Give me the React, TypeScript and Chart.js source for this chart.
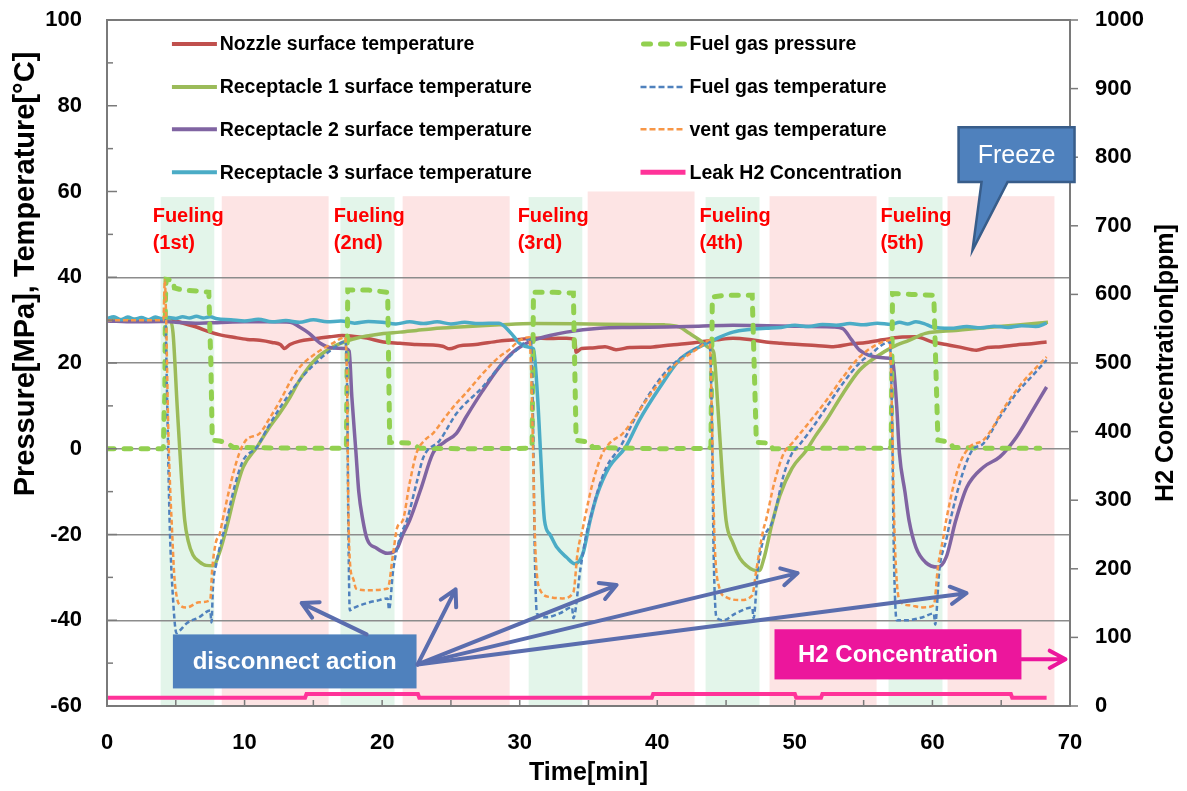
import React, { useEffect, useRef } from 'react';
import { Chart, registerables } from 'chart.js';
Chart.register(...registerables);

type P = [number, number];
const FONT = '"Liberation Sans", Arial, Helvetica, sans-serif';

// ---- axes ----
const xTickValues = [0, 10, 20, 30, 40, 50, 60, 70];
const leftTickValues = [-60, -40, -20, 0, 20, 40, 60, 80, 100];
const rightTickValues = [0, 100, 200, 300, 400, 500, 600, 700, 800, 900, 1000];

// ---- series names ----
const seriesNames = [
  'Nozzle surface temperature',
  'Receptacle 1 surface temperature',
  'Receptacle 2 surface temperature',
  'Receptacle 3 surface temperature',
  'Fuel gas pressure',
  'Fuel gas temperature',
  'vent gas temperature',
  'Leak H2 Concentration',
];

// ---- phases (min) ----
const fuelingStart = [3.9, 16.97, 30.65, 43.51, 56.81];
const fuelingEnd = [7.8, 20.9, 34.55, 47.43, 60.73];
const coolStart = [8.34, 21.49, 34.94, 48.16, 61.1];
const coolEnd = [16.11, 29.27, 42.71, 55.94, 68.87];
const coolTop = [58.9, 58.9, 60, 58.9, 58.9];
const fuelingTop = 58.7;
const fuelingOrdinals = ['(1st)', '(2nd)', '(3rd)', '(4th)', '(5th)'];
const fuelingLabelX = [3.32, 16.48, 29.85, 43.07, 56.22];

// ---- data: [time(min), value] ----
const nozzleTemp: P[] = [
  [0, 30.2], [2, 30], [4, 30.1], [5, 29.8], [5.5, 29.3], [6.5, 28.4], [7.5, 27.2], [8.3, 26.5], [9.2, 26],
  [10.2, 25.5], [11.1, 25.3], [12, 24.8], [12.6, 24.3], [12.9, 23.4], [13.3, 24.3], [14, 25.1], [15, 25.6],
  [16.2, 26.1], [17.1, 26.4], [18, 26.2], [18.9, 25.8], [20.1, 24.9], [21.3, 24.6], [22.5, 24.3], [23.7, 24.2],
  [24.4, 23.9], [24.9, 23.3], [25.6, 24], [26.8, 24.3], [28.5, 25.1], [30, 25.5], [31, 25.8], [32.2, 25.7],
  [33.4, 25.8], [34, 25.4], [34.1, 22.5], [34.5, 23.4], [35.3, 23.5], [36.2, 23.8], [37, 23.1], [38, 23.6],
  [39.5, 23.7], [41, 24.2], [42, 24.5], [43.1, 24.9], [44.3, 25.4], [45.5, 25.8], [46.7, 25.5], [47.9, 24.9],
  [49, 24.6], [50.3, 24.3], [51.5, 24.1], [52.8, 23.8], [54, 24.4], [55.2, 24.8], [56.4, 25.4], [57.6, 26],
  [58.8, 26.1], [60, 24.9], [61, 24.3], [62, 23.7], [63.2, 23], [64, 23.6], [65, 23.8], [66.1, 24.2],
  [67.2, 24.5], [68.3, 24.9],
];
const receptacle1Temp: P[] = [
  [0, 30], [2, 30.2], [4, 30], [4.6, 29.8], [4.8, 27], [5.1, 10], [5.4, -6], [5.65, -16.7], [5.9, -21.5],
  [6.25, -24.8], [6.7, -26.3], [7.2, -27.2], [7.7, -27.3], [8.2, -24], [8.7, -18.3], [9.3, -10.5], [9.9, -4.3],
  [10.9, 0.4], [11.7, 4.5], [12.6, 8.5], [13.3, 12], [14, 16], [15.2, 21], [16.4, 23.7], [17.6, 25.3],
  [18.9, 26.3], [20.1, 26.9], [21.3, 27.2], [22.5, 27.6], [23.7, 28], [25.6, 28.4], [28.5, 28.9], [31, 29.2],
  [35, 29.1], [38, 29], [40.5, 28.9], [41.6, 28.4], [42.3, 27], [43.1, 25.3], [43.8, 23.5], [44.1, 22.5],
  [44.4, 10], [44.7, -5], [45, -16.7], [45.5, -22], [46, -25.5], [46.5, -27.3], [47, -28.3], [47.4, -28.4],
  [47.8, -25], [48.3, -18], [48.9, -11], [49.8, -4.5], [50.8, -0.5], [51.5, 3], [52.3, 6.7], [53.5, 12.9],
  [54.7, 18.3], [55.9, 21.4], [57.1, 23.7], [58.3, 25.3], [59.5, 26.9], [61.7, 27.6], [64, 28.3], [66, 28.8],
  [68.4, 29.5],
];
const receptacle2Temp: P[] = [
  [0, 29.8], [2, 29.6], [4, 29.7], [5, 29.5], [6.7, 29.3], [8, 29.4], [10, 29.6], [12, 29.6], [13.3, 29.5],
  [14, 28.4], [14.7, 26.9], [15.5, 24.6], [16.4, 23.5], [17.3, 23.4], [17.6, 22.8], [17.8, 12], [18.1, -1],
  [18.3, -10], [18.6, -16.7], [18.9, -21], [19.6, -23.2], [20.4, -24.4], [21.1, -23.2], [21.5, -20], [22, -16.7],
  [22.8, -9.5], [23.7, -1], [24.5, 1.5], [25.4, 3.6], [26.1, 7.4], [27.3, 13.5], [28.5, 19], [29.5, 22.5],
  [30.5, 24.6], [31, 25.3], [32.2, 26.4], [33.4, 27.2], [35.8, 28.1], [38, 28.3], [40.7, 28.4], [43, 28.6],
  [45.5, 28.8], [48, 28.7], [50, 28.6], [52.8, 28.4], [53.5, 28], [54.1, 25.5], [54.7, 23], [55.4, 21.8],
  [56.2, 21.3], [56.9, 21.1], [57.1, 20.6], [57.4, 10], [57.6, -1], [58, -10], [58.3, -16.7], [58.8, -23],
  [59.5, -26.5], [60.4, -27.6], [61, -25.3], [61.7, -16.7], [62.5, -9], [63.7, -4.3], [64.9, -1.9],
  [66.1, 2.7], [67.2, 8.5], [68.3, 14.4],
];
const receptacle3Temp: P[] = [
  [0, 30.3], [0.5, 30.8], [1, 30.1], [1.5, 30.7], [2, 30.2], [2.5, 30.6], [3, 30.1], [3.5, 30.7], [4, 30.3],
  [4.5, 30.6], [5, 30.4], [5.5, 30.8], [6, 30.5], [6.5, 30.9], [7, 30.5], [7.5, 30.8], [8, 30.3], [9, 30.1],
  [10, 29.8], [11, 30.2], [12, 29.6], [13, 29.9], [14, 29.5], [15, 30.1], [16, 29.6], [17, 29.8], [18, 29.3],
  [19, 29.7], [20, 29.5], [21, 29.1], [22, 29.6], [23, 29.2], [24, 29.6], [25, 29.1], [26, 29.5], [27, 29.2],
  [28.5, 29.3], [29.3, 27.2], [30, 24.6], [30.7, 23.7], [31, 23.3], [31.3, 12], [31.5, 0], [31.8, -16.7],
  [32.2, -20], [32.7, -23], [33.4, -25.3], [34, -26.8], [34.6, -24.4], [35.1, -17], [35.6, -11], [36.5, -4.3],
  [37.7, 0.4], [38.7, 6.7], [40.2, 14.4], [41.6, 20.7], [42.6, 23], [43.6, 24.6], [44.5, 26], [45.5, 27.2],
  [46.7, 27.8], [47.9, 28.1], [49, 28.3], [50, 28.8], [51, 28.5], [52, 29], [53, 28.8], [54, 29.2], [55, 28.9],
  [56, 29.3], [57, 29], [57.6, 29.5], [58.2, 29.1], [58.8, 29.6], [59.4, 29.2], [60, 28.4], [61.3, 28.1],
  [62.5, 28.5], [63.5, 28.2], [64.5, 28.6], [65.5, 28.3], [66.5, 28.7], [67.5, 28.5], [68.3, 29.3],
];
const fuelGasPressure: P[] = [
  [0, 0], [4.0, 0], [4.1, 0.3], [4.15, 8], [4.2, 12], [4.25, 35], [4.3, 39.5], [4.8, 39.3], [4.9, 37.5],
  [5.5, 37], [6.5, 36.8], [7.4, 36.5], [7.55, 20], [7.65, 2], [8.2, 1.8], [8.7, 1.4], [9.2, 0.3], [12, 0.2],
  [15, 0.1], [17.3, 0.1], [17.4, 0.3], [17.5, 37], [19, 37], [20.4, 36.5], [20.55, 1.5], [22.2, 1.3], [22.7, 0.1],
  [26, 0], [30.8, 0.1], [30.9, 0.5], [31.0, 36.5], [32.5, 36.5], [33.9, 36.3], [34.1, 2], [35.1, 1.5],
  [35.3, 0.3], [40, 0], [43.8, 0.1], [43.9, 0.5], [44.0, 35.4], [45, 35.8], [46.9, 35.8], [47.2, 1.5],
  [48.2, 1.3], [48.4, 0], [52, 0.1], [56.9, 0.1], [57.0, 0.5], [57.1, 36.2], [58.5, 36], [60.1, 35.8],
  [60.4, 2], [61.3, 1.5], [61.5, 0.3], [64, 0.1], [67.8, 0.1],
];
const fuelGasTemp: P[] = [
  [0, 30], [4.25, 30], [4.35, 15], [4.55, -16.7], [4.8, -35], [5.05, -43], [5.3, -42.4], [5.8, -40.7],
  [6.7, -39.3], [7.5, -37.7], [7.6, -40.5], [7.7, -32.3], [7.95, -26.8], [8.7, -16.7], [9.3, -8.5], [9.9, -2.7],
  [10.9, 0.4], [11.7, 5], [12.6, 9.7], [14, 16], [15.5, 21], [16.5, 23.5], [17.3, 25], [17.45, 15],
  [17.55, -20], [17.65, -37.7], [17.9, -37.2], [18.9, -36], [19.8, -35.3], [20.4, -34.9], [20.5, -37.5],
  [20.8, -28.3], [21.3, -20.6], [21.8, -16.7], [22.5, -8], [23, -2], [24.2, 2], [25.4, 8.2], [27.3, 14.4],
  [28.5, 19], [30, 23.7], [30.8, 25.8], [30.95, 10], [31.1, -25], [31.25, -38.4], [31.9, -39.3], [32.9, -38.4],
  [33.8, -37], [33.9, -39.5], [34.4, -28.3], [34.8, -20.6], [35.1, -16.7], [35.7, -9.5], [36.3, -4.3],
  [37.3, 0.4], [38.7, 9], [40.7, 18.3], [42.6, 23], [43.8, 24.9], [43.95, 10], [44.1, -25], [44.3, -39.3],
  [44.8, -40], [45.7, -38.4], [46.9, -37], [47.0, -39.5], [47.3, -28.3], [47.7, -21.3], [48.4, -16.7],
  [49.2, -6], [49.8, -1], [50.3, 0.8], [51.3, 5], [52.3, 9.7], [53.5, 15.3], [54.7, 20], [55.4, 21.8],
  [56.9, 24.9], [57.05, 10], [57.2, -25], [57.4, -40], [58.1, -40], [59.3, -39.3], [60.1, -38.4], [60.2, -41],
  [60.5, -28.3], [61, -21.3], [61.3, -16.7], [62.2, -5.7], [62.9, -0.3], [63.7, 1.2], [64.9, 7.4],
  [66.1, 12.9], [67.2, 16.8], [68.3, 20.7],
];
const ventGasTemp: P[] = [
  [0, 30], [4.1, 30], [4.2, 39.3], [4.3, 30], [4.45, 5], [4.6, -10], [4.7, -17], [4.9, -30], [5.1, -35],
  [5.3, -36.5], [5.8, -37], [6.7, -35.8], [7.5, -35.3], [7.65, -28], [7.9, -22], [8.2, -19.8], [8.4, -16.7],
  [9.0, -8], [9.6, -1.2], [10.1, 2], [11.1, 3.6], [11.8, 7], [12.6, 11.3], [13.5, 16.7], [14, 19], [15.2, 22.3],
  [16.4, 24.6], [17.3, 26], [17.45, 15], [17.55, -15], [17.7, -28], [17.9, -30.3], [18.1, -32.6], [18.9, -33],
  [20.4, -32.6], [20.8, -24.4], [21.1, -18.3], [21.5, -16.7], [22.0, -8], [22.5, -1], [23.1, 2], [23.7, 3.6],
  [24.5, 7], [25.4, 10.6], [26.1, 13], [27.3, 17.5], [28.5, 21.4], [29.2, 23], [30, 25.3], [30.7, 26],
  [30.9, 10], [31.1, -20], [31.4, -32.3], [32.2, -34.6], [33.1, -34.9], [33.9, -33.5], [34.2, -24.4],
  [34.6, -18.3], [34.7, -16.7], [35.3, -8], [36, -1.2], [36.5, 1.2], [37.5, 3.6], [38.3, 7], [39.2, 11.3],
  [41.1, 19], [43.1, 23.7], [43.8, 25.3], [43.95, 10], [44.15, -20], [44.5, -32.3], [45, -34.6], [46, -35.3],
  [46.9, -34.2], [47.2, -28.3], [47.7, -19], [47.9, -16.7], [48.5, -8], [49.2, -1], [49.8, 1.3], [51, 6],
  [52.3, 11.3], [53.5, 16.7], [54.7, 21.4], [55.9, 24.2], [56.9, 25.3], [57.05, 10], [57.25, -20],
  [57.6, -35.3], [58.3, -36.5], [59.3, -37], [60.1, -36.5], [60.4, -27.6], [60.8, -20.6], [61, -16.7],
  [61.9, -4.3], [62.7, 0.4], [63.7, 2], [64.4, 5], [65.1, 9], [66.5, 15.3], [67.5, 18.8], [68.3, 21.4],
];
const leakH2ppm: P[] = [
  [0, 12.2], [14.4, 12.2], [14.5, 17.5], [22.6, 17.5], [22.7, 12.2], [39.6, 12.2], [39.7, 17.5], [50.0, 17.5],
  [50.1, 12.2], [51.9, 12.2], [52.0, 17.5], [65.7, 17.5], [65.8, 12], [68.3, 12],
];

// ---- annotations (data coordinates) ----
const disconnectBox = { t0: 4.79, t1: 22.5, v0: -43.3, v1: -55.9, text: 'disconnect action' };
const disconnectFrom: P[] = [[18.87, -43.3], [22.58, -50.3], [22.58, -50.3], [22.58, -50.3], [22.58, -50.3]];
const disconnectTo: P[] = [[14.15, -36.0], [25.34, -32.8], [37.04, -31.8], [50.2, -29.0], [62.48, -33.7]];
const h2Box = { t0: 48.52, t1: 66.47, v0: -42.1, v1: -53.8, text: 'H2 Concentration' };
const h2Arrow: P[] = [[66.47, -49.1], [69.67, -49.1]];
const freezeBox = { t0: 61.9, t1: 70.33, v0: 75.0, v1: 62.2, text: 'Freeze' };
const freezeTail: P[] = [[65.46, 62.2], [62.91, 46.3], [63.57, 62.2]];

const styles = [
  { color: '#C0504D', width: 3.5, dash: [] as number[], cap: 'butt' },
  { color: '#9BBB59', width: 3.5, dash: [] as number[], cap: 'butt' },
  { color: '#8064A2', width: 3.5, dash: [] as number[], cap: 'butt' },
  { color: '#4BACC6', width: 3.5, dash: [] as number[], cap: 'butt' },
  { color: '#92D050', width: 5, dash: [7, 10], cap: 'round' },
  { color: '#4F81BD', width: 2.5, dash: [5, 3], cap: 'butt' },
  { color: '#F79646', width: 2.5, dash: [5, 3], cap: 'butt' },
  { color: '#FF3399', width: 4, dash: [] as number[], cap: 'butt' },
];
const seriesData = [nozzleTemp, receptacle1Temp, receptacle2Temp, receptacle3Temp, fuelGasPressure, fuelGasTemp, ventGasTemp, leakH2ppm];
const drawOrder = [7, 6, 5, 4, 3, 2, 1, 0];

// legend placement (data coords): rows and two columns
const legendRowsV = [94.4, 84.4, 74.5, 64.5];
const legendCols = [
  { lineT0: 4.72, lineT1: 7.99, textT: 8.19 },
  { lineT0: 38.78, lineT1: 42.05, textT: 42.34 },
];

function arrow(ctx: CanvasRenderingContext2D, x1: number, y1: number, x2: number, y2: number, color: string, w: number, head: number) {
  ctx.save();
  ctx.strokeStyle = color;
  ctx.lineWidth = w;
  ctx.lineCap = 'round';
  ctx.lineJoin = 'round';
  ctx.beginPath();
  ctx.moveTo(x1, y1);
  ctx.lineTo(x2, y2);
  const a = Math.atan2(y2 - y1, x2 - x1);
  ctx.moveTo(x2 - head * Math.cos(a - 0.5), y2 - head * Math.sin(a - 0.5));
  ctx.lineTo(x2, y2);
  ctx.lineTo(x2 - head * Math.cos(a + 0.5), y2 - head * Math.sin(a + 0.5));
  ctx.stroke();
  ctx.restore();
}

const overlayPlugin = {
  id: 'overlay',
  beforeDraw(chart: any) {
    const { ctx, scales } = chart;
    const X = (t: number) => scales.x.getPixelForValue(t);
    const Y = (v: number) => scales.y.getPixelForValue(v);
    const bottom = chart.chartArea.bottom + 1;
    ctx.save();
    for (let i = 0; i < fuelingStart.length; i++) {
      ctx.fillStyle = '#E3F5EA';
      ctx.fillRect(X(fuelingStart[i]), Y(fuelingTop), X(fuelingEnd[i]) - X(fuelingStart[i]), bottom - Y(fuelingTop));
      ctx.fillStyle = '#FDE4E4';
      ctx.fillRect(X(coolStart[i]), Y(coolTop[i]), X(coolEnd[i]) - X(coolStart[i]), bottom - Y(coolTop[i]));
    }
    ctx.restore();
  },
  afterDatasetsDraw(chart: any) {
    const { ctx, scales, chartArea } = chart;
    const X = (t: number) => scales.x.getPixelForValue(t);
    const Y = (v: number) => scales.y.getPixelForValue(v);
    const Y1 = (v: number) => scales.y1.getPixelForValue(v);
    ctx.save();
    // frame
    ctx.strokeStyle = '#7a7a7a';
    ctx.lineWidth = 2;
    ctx.strokeRect(chartArea.left, chartArea.top, chartArea.right - chartArea.left, chartArea.bottom - chartArea.top);
    ctx.lineWidth = 1.5;
    // left ticks (inward), major + minor
    for (let i = 0; i < leftTickValues.length; i++) {
      const v = leftTickValues[i];
      const y = Y(v);
      ctx.beginPath(); ctx.moveTo(chartArea.left, y); ctx.lineTo(chartArea.left + 10, y); ctx.stroke();
      if (i < leftTickValues.length - 1) {
        const ym = Y((v + leftTickValues[i + 1]) / 2);
        ctx.beginPath(); ctx.moveTo(chartArea.left, ym); ctx.lineTo(chartArea.left + 6, ym); ctx.stroke();
      }
    }
    // right ticks (outward)
    for (const v of rightTickValues) {
      const y = Y1(v);
      ctx.beginPath(); ctx.moveTo(chartArea.right, y); ctx.lineTo(chartArea.right + 8, y); ctx.stroke();
    }
    // x ticks (inward)
    for (let i = 0; i < xTickValues.length; i++) {
      const x = X(xTickValues[i]);
      ctx.beginPath(); ctx.moveTo(x, chartArea.bottom); ctx.lineTo(x, chartArea.bottom - 6); ctx.stroke();
      if (i < xTickValues.length - 1) {
        const xm = X((xTickValues[i] + xTickValues[i + 1]) / 2);
        ctx.beginPath(); ctx.moveTo(xm, chartArea.bottom); ctx.lineTo(xm, chartArea.bottom - 6); ctx.stroke();
      }
    }
    // Fueling labels
    ctx.fillStyle = '#FF0000';
    ctx.font = `bold 20px ${FONT}`;
    ctx.textAlign = 'left';
    ctx.textBaseline = 'alphabetic';
    for (let i = 0; i < fuelingLabelX.length; i++) {
      ctx.fillText('Fueling', X(fuelingLabelX[i]), Y(52.9));
      ctx.fillText(fuelingOrdinals[i], X(fuelingLabelX[i]), Y(46.6));
    }
    // legend
    ctx.font = `bold 19.5px ${FONT}`;
    ctx.textBaseline = 'middle';
    for (let i = 0; i < seriesNames.length; i++) {
      const col = legendCols[Math.floor(i / 4)];
      const y = Y(legendRowsV[i % 4]);
      const st = styles[i];
      ctx.save();
      ctx.strokeStyle = st.color;
      ctx.lineWidth = i === 7 ? 5 : i >= 5 ? 2.5 : i === 4 ? 5 : 4;
      ctx.lineCap = st.cap as CanvasLineCap;
      ctx.setLineDash(i === 5 || i === 6 ? [6, 3] : st.dash);
      ctx.beginPath();
      ctx.moveTo(X(col.lineT0) + (st.cap === 'round' ? 3 : 0), y);
      ctx.lineTo(X(col.lineT1), y);
      ctx.stroke();
      ctx.restore();
      ctx.fillStyle = '#000';
      ctx.fillText(seriesNames[i], X(col.textT), y + 1);
    }
    // disconnect box
    ctx.fillStyle = '#4F81BD';
    ctx.fillRect(X(disconnectBox.t0), Y(disconnectBox.v0), X(disconnectBox.t1) - X(disconnectBox.t0), Y(disconnectBox.v1) - Y(disconnectBox.v0));
    ctx.fillStyle = '#FFFFFF';
    ctx.font = `bold 24px ${FONT}`;
    ctx.textAlign = 'center';
    ctx.textBaseline = 'middle';
    ctx.fillText(disconnectBox.text, (X(disconnectBox.t0) + X(disconnectBox.t1)) / 2, (Y(disconnectBox.v0) + Y(disconnectBox.v1)) / 2 + 1);
    for (let i = 0; i < disconnectFrom.length; i++) {
      arrow(ctx, X(disconnectFrom[i][0]), Y(disconnectFrom[i][1]), X(disconnectTo[i][0]), Y(disconnectTo[i][1]), '#5A6DAE', 4, 18);
    }
    // H2 box
    ctx.fillStyle = '#EC169C';
    ctx.fillRect(X(h2Box.t0), Y(h2Box.v0), X(h2Box.t1) - X(h2Box.t0), Y(h2Box.v1) - Y(h2Box.v0));
    ctx.fillStyle = '#FFFFFF';
    ctx.fillText(h2Box.text, (X(h2Box.t0) + X(h2Box.t1)) / 2, (Y(h2Box.v0) + Y(h2Box.v1)) / 2 + 1);
    arrow(ctx, X(h2Arrow[0][0]), Y(h2Arrow[0][1]), X(h2Arrow[1][0]), Y(h2Arrow[1][1]), '#EC169C', 4, 18);
    // Freeze callout
    const fx0 = X(freezeBox.t0), fx1 = X(freezeBox.t1), fy0 = Y(freezeBox.v0), fy1 = Y(freezeBox.v1);
    ctx.beginPath();
    ctx.moveTo(fx0, fy0);
    ctx.lineTo(fx1, fy0);
    ctx.lineTo(fx1, fy1);
    for (const p of freezeTail) ctx.lineTo(X(p[0]), Y(p[1]));
    ctx.lineTo(fx0, fy1);
    ctx.closePath();
    ctx.fillStyle = '#4F81BD';
    ctx.fill();
    ctx.strokeStyle = '#385D8A';
    ctx.lineWidth = 2.5;
    ctx.lineJoin = 'miter';
    ctx.stroke();
    ctx.fillStyle = '#FFFFFF';
    ctx.font = `25px ${FONT}`;
    ctx.fillText(freezeBox.text, (fx0 + fx1) / 2, (fy0 + fy1) / 2 + 1);
    ctx.restore();
  },
  afterDraw(chart: any) {
    const { ctx, chartArea } = chart;
    ctx.save();
    ctx.fillStyle = '#000';
    ctx.textAlign = 'center';
    ctx.textBaseline = 'middle';
    ctx.font = `bold 25px ${FONT}`;
    ctx.fillText('Time[min]', (chartArea.left + chartArea.right) / 2, 773);
    ctx.save();
    ctx.translate(26, 274);
    ctx.rotate(-Math.PI / 2);
    ctx.font = `bold 29px ${FONT}`;
    ctx.fillText('Pressure[MPa], Temperature[°C]', 0, 0);
    ctx.restore();
    ctx.save();
    ctx.translate(1166, (chartArea.top + chartArea.bottom) / 2);
    ctx.rotate(-Math.PI / 2);
    ctx.font = `bold 25px ${FONT}`;
    ctx.fillText('H2 Concentration[ppm]', 0, 0);
    ctx.restore();
    ctx.restore();
  },
};

export default function App() {
  const ref = useRef<HTMLCanvasElement | null>(null);
  useEffect(() => {
    if (!ref.current) return;
    const datasets = drawOrder.map((i, k) => ({
      label: seriesNames[i],
      data: seriesData[i].map(([x, y]) => ({ x, y })),
      yAxisID: i === 7 ? 'y1' : 'y',
      borderColor: styles[i].color,
      backgroundColor: styles[i].color,
      borderWidth: styles[i].width,
      borderDash: styles[i].dash,
      borderCapStyle: styles[i].cap,
      pointRadius: 0,
      fill: false,
      tension: 0,
      cubicInterpolationMode: i === 4 || i === 7 ? 'default' : 'monotone',
      order: k,
    }));
    const tickFont = { family: FONT, size: 22, weight: 'bold' as const };
    const chart = new Chart(ref.current, {
      type: 'line',
      data: { datasets: datasets as any },
      options: {
        responsive: false,
        devicePixelRatio: 1,
        animation: false,
        events: [],
        layout: { padding: { top: 20, left: 0, right: 0, bottom: 0 } },
        plugins: { legend: { display: false }, tooltip: { enabled: false }, title: { display: false } },
        scales: {
          x: {
            type: 'linear', min: 0, max: 70,
            afterBuildTicks: (s: any) => { s.ticks = xTickValues.map((v) => ({ value: v })); },
            afterFit: (s: any) => { s.height = 85; },
            grid: { display: false, drawTicks: false },
            border: { display: false },
            ticks: { font: tickFont, color: '#000', padding: 24, maxRotation: 0, autoSkip: false, callback: (v: any) => String(v) },
          },
          y: {
            type: 'linear', position: 'left', min: -60, max: 100,
            afterBuildTicks: (s: any) => { s.ticks = leftTickValues.map((v) => ({ value: v })); },
            afterFit: (s: any) => { s.width = 107; },
            grid: {
              drawTicks: true,
              tickLength: 25,
              tickColor: 'rgba(0,0,0,0)',
              lineWidth: 1.5,
              color: (c: any) => (c.tick && Math.abs(c.tick.value) <= 40 ? '#8c8c8c' : 'rgba(0,0,0,0)'),
            },
            border: { display: false },
            ticks: { font: tickFont, color: '#000', padding: 0, autoSkip: false, callback: (v: any) => String(v) },
          },
          y1: {
            type: 'linear', position: 'right', min: 0, max: 1000,
            afterBuildTicks: (s: any) => { s.ticks = rightTickValues.map((v) => ({ value: v })); },
            afterFit: (s: any) => { s.width = 117; },
            grid: { display: true, drawOnChartArea: false, drawTicks: true, tickLength: 25, tickColor: 'rgba(0,0,0,0)', color: 'rgba(0,0,0,0)' },
            border: { display: false },
            ticks: { font: tickFont, color: '#000', padding: 0, autoSkip: false, callback: (v: any) => String(v) },
          },
        },
      },
      plugins: [overlayPlugin as any],
    });
    return () => chart.destroy();
  }, []);
  return (
    <div style={{ position: 'absolute', left: 0, top: 0, width: 1187, height: 791, background: '#fff' }}>
      <canvas ref={ref} width={1187} height={791} style={{ display: 'block' }} />
    </div>
  );
}
